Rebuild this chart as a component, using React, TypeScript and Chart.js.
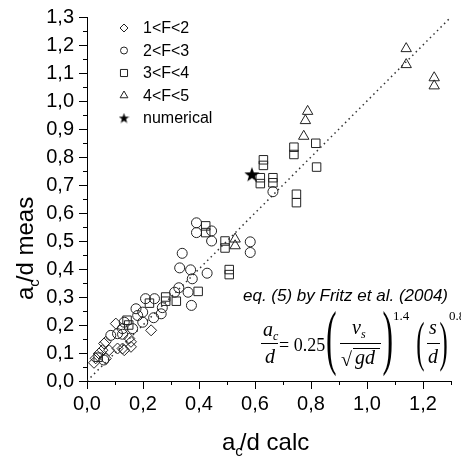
import React, { useEffect, useRef } from 'react';
import { Chart, registerables } from 'chart.js';
import { drawPoint } from 'chart.js/helpers';

Chart.register(...registerables);

type P = [number, number];

// 1<F<2 (diamonds)
const f1to2: P[] = [
  [0.025, 0.065], [0.031, 0.081], [0.043, 0.098], [0.055, 0.11], [0.067, 0.08],
  [0.061, 0.134], [0.067, 0.14], [0.079, 0.11], [0.103, 0.205], [0.109, 0.116],
  [0.127, 0.116], [0.133, 0.11], [0.157, 0.122], [0.151, 0.152], [0.157, 0.14],
  [0.229, 0.181],
];
// 2<F<3 (circles)
const f2to3: P[] = [
  [0.06, 0.075], [0.085, 0.163], [0.109, 0.169], [0.127, 0.167], [0.133, 0.21],
  [0.127, 0.187], [0.163, 0.187], [0.175, 0.258], [0.199, 0.246], [0.199, 0.21],
  [0.181, 0.234], [0.209, 0.294], [0.241, 0.294], [0.238, 0.226], [0.265, 0.24],
  [0.269, 0.262], [0.313, 0.317], [0.328, 0.333], [0.361, 0.317], [0.373, 0.27],
  [0.376, 0.365], [0.37, 0.397], [0.331, 0.404], [0.34, 0.456], [0.429, 0.385],
  [0.391, 0.565], [0.391, 0.53], [0.445, 0.536], [0.445, 0.5], [0.583, 0.497],
  [0.583, 0.459], [0.664, 0.676],
];
// 3<F<4 (squares)
const f3to4: P[] = [
  [0.04, 0.085], [0.143, 0.217], [0.149, 0.2], [0.223, 0.278], [0.281, 0.285],
  [0.281, 0.3], [0.319, 0.285], [0.397, 0.32], [0.424, 0.554], [0.424, 0.53],
  [0.493, 0.5], [0.493, 0.475], [0.508, 0.398], [0.508, 0.38], [0.619, 0.726],
  [0.619, 0.705], [0.63, 0.79], [0.63, 0.77], [0.664, 0.726], [0.664, 0.708],
  [0.739, 0.835], [0.739, 0.809], [0.748, 0.667], [0.748, 0.637], [0.817, 0.849],
  [0.82, 0.764],
];
// 4<F<5 (triangles)
const f4to5: P[] = [
  [0.529, 0.507], [0.529, 0.483], [0.774, 0.874], [0.78, 0.93], [0.788, 0.963],
  [1.14, 1.187], [1.14, 1.13], [1.24, 1.083], [1.24, 1.054],
];
// numerical (star)
const numerical: P[] = [[0.589, 0.738]];
// 1:1 reference line
const refLine: P[] = [[0, 0], [1.3, 1.3]];

const legendLabels = ['1<F<2', '2<F<3', '3<F<4', '4<F<5', 'numerical'];
const axisMin = 0;
const axisMax = 1.3;
const xTitleParts = ['a', 'c', '/d calc'];
const yTitleParts = ['a', 'c', '/d meas'];
const eqCaption = 'eq. (5) by Fritz et al. (2004)';

const SANS = '"Liberation Sans", Arial, sans-serif';
const SERIF = '"Liberation Serif", "Times New Roman", serif';
const INK = '#222';

const fmt = (v: number) => v.toFixed(1).replace('.', ',');
const toXY = (arr: P[]) => arr.map(([x, y]) => ({ x, y }));

function makeStar(size: number): HTMLCanvasElement {
  const c = document.createElement('canvas');
  c.width = size;
  c.height = size;
  const g = c.getContext('2d')!;
  const cx = size / 2, cy = size / 2 + size * 0.04;
  const R = size / 2, r = R * 0.4;
  g.beginPath();
  for (let i = 0; i < 10; i++) {
    const rad = i % 2 === 0 ? R : r;
    const a = -Math.PI / 2 + (i * Math.PI) / 5;
    const px = cx + rad * Math.cos(a), py = cy + rad * Math.sin(a);
    if (i === 0) g.moveTo(px, py); else g.lineTo(px, py);
  }
  g.closePath();
  g.fillStyle = '#000';
  g.fill();
  return c;
}

export default function App() {
  const ref = useRef<HTMLCanvasElement>(null);

  useEffect(() => {
    const canvas = ref.current;
    if (!canvas) return;
    const starBig = makeStar(16);
    const starSmall = makeStar(11);

    const drawParen = (ctx: CanvasRenderingContext2D, ch: string, x0: number, x1: number, y0: number, y1: number) => {
      ctx.save();
      ctx.font = `60px ${SERIF}`;
      const m = ctx.measureText(ch);
      const gw = m.actualBoundingBoxLeft + m.actualBoundingBoxRight;
      const gh = m.actualBoundingBoxAscent + m.actualBoundingBoxDescent;
      const sx = (x1 - x0) / gw, sy = (y1 - y0) / gh;
      ctx.translate(x0, y0);
      ctx.scale(sx, sy);
      ctx.textBaseline = 'alphabetic';
      ctx.fillText(ch, m.actualBoundingBoxLeft, m.actualBoundingBoxAscent);
      ctx.restore();
    };

    const overlay = {
      id: 'overlay',
      afterDraw(chart: any) {
        const ctx: CanvasRenderingContext2D = chart.ctx;
        const xs = chart.scales.x, ys = chart.scales.y;
        const { left, bottom } = chart.chartArea;
        ctx.save();
        // minor ticks
        ctx.strokeStyle = '#000';
        ctx.lineWidth = 1;
        ctx.beginPath();
        for (let k = 1; k <= 13; k += 2) {
          const px = Math.round(xs.getPixelForValue(k / 10)) + 0.5;
          ctx.moveTo(px, bottom);
          ctx.lineTo(px, bottom + 4);
        }
        for (let k = 1; k <= 25; k += 2) {
          const py = Math.round(ys.getPixelForValue(k / 20)) + 0.5;
          ctx.moveTo(left, py);
          ctx.lineTo(left - 4, py);
        }
        ctx.stroke();

        // legend
        const styles: any[] = ['rectRot', 'circle', 'rect', 'triangle', starSmall];
        const radii = [4, 3.5, 5, 4.5, 5];
        const ly0 = 28, ldy = 22.5, lx = 124, tx = 143;
        ctx.fillStyle = '#000';
        ctx.font = `16px ${SANS}`;
        ctx.textBaseline = 'middle';
        ctx.textAlign = 'left';
        legendLabels.forEach((lab, i) => {
          const y = ly0 + i * ldy;
          ctx.save();
          ctx.strokeStyle = INK;
          ctx.fillStyle = 'rgba(0,0,0,0)';
          ctx.lineWidth = 1;
          drawPoint(ctx, { pointStyle: styles[i], rotation: 0, radius: radii[i], borderWidth: 1 } as any, lx, y);
          ctx.restore();
          ctx.fillStyle = '#000';
          ctx.fillText(lab, tx, y + 1);
        });

        // x axis title
        ctx.textBaseline = 'alphabetic';
        ctx.font = `24px ${SANS}`;
        let x = 222;
        const by = 450;
        ctx.fillText(xTitleParts[0], x, by);
        x += ctx.measureText(xTitleParts[0]).width;
        ctx.font = `15px ${SANS}`;
        ctx.fillText(xTitleParts[1], x, by + 6);
        x += ctx.measureText(xTitleParts[1]).width * 0.6;
        ctx.font = `24px ${SANS}`;
        ctx.fillText(xTitleParts[2], x, by);

        // y axis title
        ctx.save();
        ctx.translate(33, 300);
        ctx.rotate(-Math.PI / 2);
        let yy = 0;
        ctx.font = `24px ${SANS}`;
        ctx.fillText(yTitleParts[0], yy, 0);
        yy += ctx.measureText(yTitleParts[0]).width;
        ctx.font = `15px ${SANS}`;
        ctx.fillText(yTitleParts[1], yy, 6);
        yy += ctx.measureText(yTitleParts[1]).width * 0.6;
        ctx.font = `24px ${SANS}`;
        ctx.fillText(yTitleParts[2], yy, 0);
        ctx.restore();

        // equation caption
        ctx.font = `italic 17px ${SANS}`;
        ctx.fillText(eqCaption, 243, 301);

        // formula
        const it = (s: string, px: number, py: number, size: number) => {
          ctx.font = `italic ${size}px ${SERIF}`;
          ctx.fillText(s, px, py);
        };
        const rm = (s: string, px: number, py: number, size: number) => {
          ctx.font = `${size}px ${SERIF}`;
          ctx.fillText(s, px, py);
        };
        ctx.lineWidth = 1;
        ctx.strokeStyle = '#000';
        // a_c / d
        it('a', 263, 336, 20);
        it('c', 273, 340, 12);
        it('d', 265, 363, 20);
        ctx.beginPath();
        ctx.moveTo(261, 343.5); ctx.lineTo(278, 343.5);
        // v_s / sqrt(gd)
        ctx.moveTo(340, 343.5); ctx.lineTo(381, 343.5);
        ctx.moveTo(353, 348.5); ctx.lineTo(380, 348.5);
        // s / d
        ctx.moveTo(427, 343.5); ctx.lineTo(440, 343.5);
        ctx.stroke();
        rm('= 0.25', 279, 351, 18);
        drawParen(ctx, '(', 327, 336, 311, 376);
        it('v', 352, 334, 20);
        it('s', 361, 338, 12);
        rm('\u221A', 341, 366, 20);
        it('gd', 355, 364, 20);
        drawParen(ctx, ')', 383, 392, 311, 376);
        rm('1.4', 393, 320, 13);
        drawParen(ctx, '(', 417, 424, 321, 372);
        it('s', 429, 334, 20);
        it('d', 428, 363, 20);
        drawParen(ctx, ')', 440, 447, 321, 372);
        rm('0.8', 449, 320, 13);
        ctx.restore();
      },
    };

    const chart = new Chart(canvas, {
      type: 'scatter',
      data: {
        datasets: [
          {
            label: legendLabels[4],
            data: toXY(numerical),
            pointStyle: starBig as any,
            pointRadius: 8,
            pointHoverRadius: 8,
          },
          {
            label: legendLabels[0],
            data: toXY(f1to2),
            pointStyle: 'rectRot',
            pointRadius: 5.5,
            pointHoverRadius: 5.5,
            borderColor: INK,
            backgroundColor: 'rgba(0,0,0,0)',
            borderWidth: 1,
          },
          {
            label: legendLabels[1],
            data: toXY(f2to3),
            pointStyle: 'circle',
            pointRadius: 5,
            pointHoverRadius: 5,
            borderColor: INK,
            backgroundColor: 'rgba(0,0,0,0)',
            borderWidth: 1,
          },
          {
            label: legendLabels[2],
            data: toXY(f3to4),
            pointStyle: 'rect',
            pointRadius: 6,
            pointHoverRadius: 6,
            borderColor: INK,
            backgroundColor: 'rgba(0,0,0,0)',
            borderWidth: 1,
          },
          {
            label: legendLabels[3],
            data: toXY(f4to5),
            pointStyle: 'triangle',
            pointRadius: 6,
            pointHoverRadius: 6,
            borderColor: INK,
            backgroundColor: 'rgba(0,0,0,0)',
            borderWidth: 1,
          },
          {
            type: 'line' as any,
            label: 'ref',
            data: toXY(refLine),
            showLine: true,
            fill: false,
            pointRadius: 0,
            borderColor: '#333',
            borderWidth: 1.5,
            borderDash: [1.5, 3.5],
          },
        ],
      },
      options: {
        animation: false,
        responsive: false,
        events: [],
        layout: { padding: { top: 15, right: 10, left: 0, bottom: 0 } },
        plugins: { legend: { display: false }, tooltip: { enabled: false } },
        scales: {
          x: {
            type: 'linear',
            min: axisMin,
            max: axisMax,
            afterFit: (s: any) => { s.height = 77; },
            border: { display: true, color: '#000', width: 1 },
            grid: {
              drawOnChartArea: false,
              drawTicks: true,
              tickLength: 8,
              tickColor: (c: any) => (Math.round(c.tick.value * 10) % 2 === 0 ? '#000' : 'rgba(0,0,0,0)'),
            },
            ticks: {
              stepSize: 0.1,
              autoSkip: false,
              maxRotation: 0,
              padding: 3,
              color: '#000',
              font: { family: SANS, size: 20 },
              callback: (v: any) => (Math.round(Number(v) * 10) % 2 === 0 ? fmt(Number(v)) : ''),
            },
          },
          y: {
            type: 'linear',
            min: axisMin,
            max: axisMax,
            afterFit: (s: any) => { s.width = 87; },
            border: { display: true, color: '#000', width: 1 },
            grid: {
              drawOnChartArea: false,
              drawTicks: true,
              tickLength: 8,
              tickColor: (c: any) => (Math.round(c.tick.value * 20) % 2 === 0 ? '#000' : 'rgba(0,0,0,0)'),
            },
            ticks: {
              stepSize: 0.05,
              autoSkip: false,
              padding: 5,
              color: '#000',
              font: { family: SANS, size: 20 },
              callback: (v: any) => (Math.round(Number(v) * 20) % 2 === 0 ? fmt(Number(v)) : ''),
            },
          },
        },
      },
      plugins: [overlay],
    });
    return () => chart.destroy();
  }, []);

  return (
    <div style={{ position: 'fixed', left: 0, top: 0, width: 461, height: 458, background: '#fff' }}>
      <canvas ref={ref} width={461} height={458} style={{ width: 461, height: 458, display: 'block' }} />
    </div>
  );
}
